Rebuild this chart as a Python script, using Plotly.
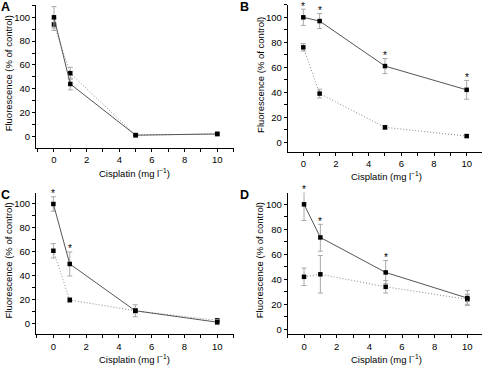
import plotly.graph_objects as go

W, H = 485, 365

# ---------------- data ----------------
doses = [0, 1, 5, 10]
x_tick_vals = [0, 2, 4, 6, 8, 10]
y_tick_vals = [0, 20, 40, 60, 80, 100]

a_solid = [100, 44, 1, 2]
a_solid_err = [9, 5, 1, 1]
a_dot = [94, 53, 1, 2]
a_dot_err = [5, 5, 1, 1]

b_solid = [100, 97, 61, 42]
b_solid_err = [6.5, 6, 6, 7.5]
b_dot = [76, 39, 12, 5]
b_dot_err = [3, 3.5, 1.5, 1]

c_solid = [100, 50, 11, 1.5]
c_solid_err = [6, 10, 5, 2]
c_dot = [61, 20, 11, 3]
c_dot_err = [6, 2, 2, 1]

d_solid = [100, 73.5, 45.5, 25]
d_solid_err_plus = [9.5, 10.5, 9.5, 6]
d_solid_err_minus = [13, 11, 9, 6]
d_dot = [42, 44, 34, 24]
d_dot_err = [7, 15, 5, 4]

a_sig = [0, 0, 0, 0]
b_sig = [1, 1, 1, 1]
c_sig = [1, 1, 0, 0]
d_sig = [1, 1, 1, 0]

panel_labels = ["A", "B", "C", "D"]
x_title = "Cisplatin (mg l<sup>−1</sup>)"
y_title = "Fluorescence (% of control)"

# ---------------- layout geometry (pixels) ----------------
FONT = "Liberation Sans, Arial, Helvetica, sans-serif"
FS = 9.5

def px(x):
    return x / W

def py(y):
    return 1 - y / H

# (left, right, top, bottom) in pixels; x range; y range
geo = [
    dict(box=(36, 233.6, 4.7, 148), xr=[-1.1, 11.0], yr=[-9.8, 110.6]),
    dict(box=(287.7, 481.7, 4.7, 151.7), xr=[-0.955, 10.92], yr=[-7.5, 110.1]),
    dict(box=(36, 233.6, 192.7, 334.3), xr=[-1.06, 11.0], yr=[-8.6, 109.4]),
    dict(box=(287.7, 481.7, 192.7, 334.3), xr=[-1.0, 10.88], yr=[-4.0, 109.3]),
]

series = [
    (a_solid, a_solid_err, a_solid_err, a_dot, a_dot_err, a_sig),
    (b_solid, b_solid_err, b_solid_err, b_dot, b_dot_err, b_sig),
    (c_solid, c_solid_err, c_solid_err, c_dot, c_dot_err, c_sig),
    (d_solid, d_solid_err_plus, d_solid_err_minus, d_dot, d_dot_err, d_sig),
]

fig = go.Figure()
annotations = []
layout_axes = {}

for i, (g, s) in enumerate(zip(geo, series)):
    n = i + 1
    xa = "x" if n == 1 else f"x{n}"
    ya = "y" if n == 1 else f"y{n}"
    solid, sp, sm, dot, derr, sig = s
    l, r, t, b = g["box"]
    x0, x1 = g["xr"]
    y0, y1 = g["yr"]
    dom_x = [px(l), px(r)]
    dom_y = [py(b), py(t)]

    fig.add_trace(go.Scatter(
        x=doses, y=dot, xaxis=xa, yaxis=ya, mode="lines+markers",
        line=dict(color="#8a8a8a", width=1, dash="1px,2px"),
        marker=dict(symbol="square", size=4.5, color="black"),
        error_y=dict(type="data", array=derr, color="#a8a8a8", thickness=1, width=2.5),
        cliponaxis=False, hoverinfo="skip",
    ))
    fig.add_trace(go.Scatter(
        x=doses, y=solid, xaxis=xa, yaxis=ya, mode="lines+markers",
        line=dict(color="#555555", width=1),
        marker=dict(symbol="square", size=4.5, color="black"),
        error_y=dict(type="data", symmetric=False, array=sp, arrayminus=sm,
                     color="#a8a8a8", thickness=1, width=2.5),
        cliponaxis=False, hoverinfo="skip",
    ))

    # significance asterisks, placed in paper coords derived from the data
    for xv, yv, up, flag in zip(doses, solid, sp, sig):
        if flag:
            xp = dom_x[0] + (xv - x0) / (x1 - x0) * (dom_x[1] - dom_x[0])
            yp = dom_y[0] + (yv + up - y0) / (y1 - y0) * (dom_y[1] - dom_y[0])
            annotations.append(dict(
                x=xp, y=yp, xref="paper", yref="paper", text="*", showarrow=False,
                font=dict(family=FONT, size=10, color="black"),
                xanchor="center", yanchor="middle", yshift=3,
            ))

    common = dict(showline=True, linecolor="black", linewidth=1, ticks="outside",
                  ticklen=3, tickwidth=1, tickcolor="black", showgrid=False,
                  zeroline=False, tickfont=dict(family=FONT, size=FS, color="black"),
                  fixedrange=True)
    layout_axes["xaxis" if n == 1 else f"xaxis{n}"] = dict(
        domain=dom_x, range=g["xr"], anchor=ya,
        tickvals=x_tick_vals, minor=dict(dtick=1, tick0=0, ticks="outside", ticklen=3,
                                         tickcolor="black", tickwidth=1),
        **common)
    layout_axes["yaxis" if n == 1 else f"yaxis{n}"] = dict(
        domain=dom_y, range=g["yr"], anchor=xa,
        tickvals=y_tick_vals, minor=dict(dtick=10, tick0=0, ticks="outside", ticklen=3,
                                         tickcolor="black", tickwidth=1),
        **common)

    # axis titles
    annotations.append(dict(
        x=px((l + r) / 2 - 0.5 if n in (1, 3) else (l + r) / 2 + 2),
        y=py(b + 24.5), xref="paper", yref="paper", text=x_title, showarrow=False,
        font=dict(family=FONT, size=FS, color="black"), xanchor="center", yanchor="middle"))
    annotations.append(dict(
        x=px(l - 28), y=py((t + b) / 2 - 3), xref="paper", yref="paper", text=y_title,
        showarrow=False, textangle=-90,
        font=dict(family=FONT, size=FS, color="black"), xanchor="center", yanchor="middle"))
    # panel letter
    annotations.append(dict(
        x=px(l - 31 if n in (1, 3) else l - 43), y=py(t + 2.5), xref="paper", yref="paper",
        text=f"<b>{panel_labels[i]}</b>", showarrow=False,
        font=dict(family=FONT, size=12.5, color="black"), xanchor="center", yanchor="middle"))

fig.update_layout(
    width=W, height=H, margin=dict(l=0, r=0, t=0, b=0),
    paper_bgcolor="white", plot_bgcolor="white", showlegend=False,
    annotations=annotations, **layout_axes,
)

fig.write_html(
    "out.html",
    config={"displayModeBar": False, "staticPlot": True},
    post_script="document.body.style.margin='0';document.body.style.padding='0';"
                "document.body.style.overflow='hidden';",
)
